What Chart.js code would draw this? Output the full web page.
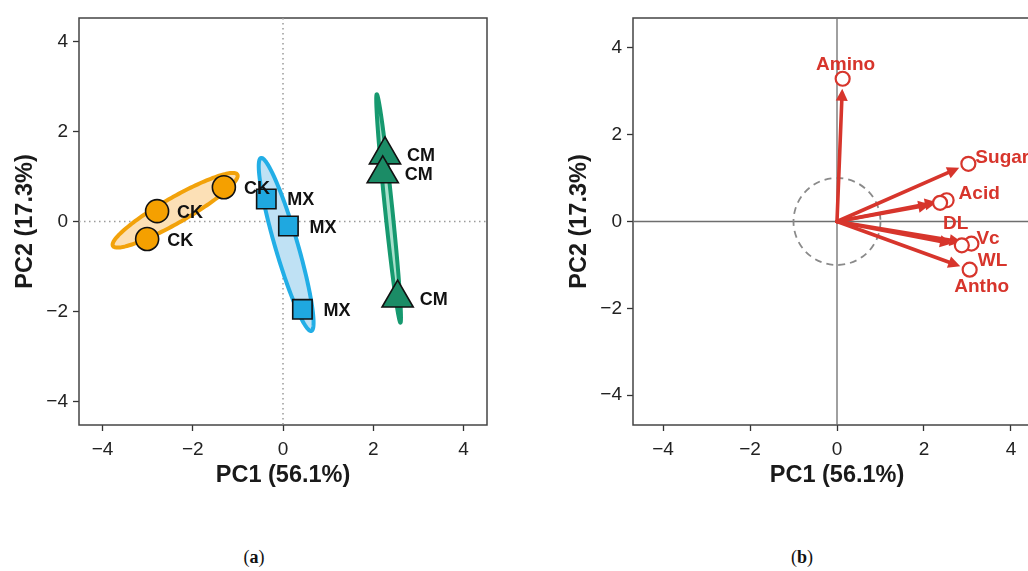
<!DOCTYPE html>
<html><head><meta charset="utf-8">
<script src="https://cdn.jsdelivr.net/npm/chart.js@4"></script>
<style>
html,body{margin:0;padding:0;background:#fff;width:1028px;height:571px;overflow:hidden;position:relative}
#wa{position:absolute;left:0;top:0;width:500px;height:500px}
#wb{position:absolute;left:554px;top:0;width:500px;height:500px}
.cap{position:absolute;top:547px;font-family:"Liberation Serif","Times New Roman",serif;font-size:18px;color:#111;transform:translateX(-50%)}
</style></head><body>
<div id="wa"><canvas id="ca" width="500" height="500"></canvas></div>
<div id="wb"><canvas id="cb" width="500" height="500"></canvas></div>
<div class="cap" style="left:254px">(<b>a</b>)</div>
<div class="cap" style="left:802px">(<b>b</b>)</div>
<script>
// ---------- data ----------
const tickValues = [-4, -2, 0, 2, 4];
const groupNames = ['CK', 'MX', 'CM'];
const ckPC1 = [-1.31, -2.79, -3.01];
const ckPC2 = [0.76, 0.23, -0.39];
const mxPC1 = [-0.37, 0.12, 0.43];
const mxPC2 = [0.50, -0.10, -1.95];
const cmPC1 = [2.26, 2.21, 2.54];
const cmPC2 = [1.48, 1.06, -1.70];
// confidence ellipses (data units)
const ellCenterPC1 = [-2.39, 0.07, 2.34];
const ellCenterPC2 = [0.25, -0.51, 0.29];
const ellSemiMajor = [1.59, 2.00, 2.55];
const ellSemiMinor = [0.28, 0.25, 0.08];
const ellAngleDeg = [29.9, -73.8, -84.1];
// variable loadings
const varNames = ['Amino', 'Sugar', 'Acid', 'DL', 'Vc', 'WL', 'Antho'];
const loadPC1 = [0.13, 3.02, 2.52, 2.37, 3.09, 2.87, 3.05];
const loadPC2 = [3.29, 1.33, 0.49, 0.43, -0.51, -0.55, -1.11];
const unitCircleRadius = [1];

// ---------- styles ----------
const FONT = '"Liberation Sans", Arial, Helvetica, sans-serif';
const groupStyle = [
  {shape: 'circle', r: 11.5, fill: '#F5A000', ellStroke: '#F2A20A', ellFill: '#FCE0B6', gap: 20},
  {shape: 'rect', r: 13.7, fill: '#1FA8E0', ellStroke: '#22AEE6', ellFill: '#BFE1F4', gap: 21},
  {shape: 'triangle', r: 18, fill: '#1B8C66', ellStroke: '#16996F', ellFill: '#A8E0CC', gap: 22}
];
const RED = '#D7352C';
const varLabelDx = [3, 7, 12, 3, 5, 16, 12];
const varLabelDy = [-16, -8, -8, 19, -6, 14, 16];
const varLabelAlign = ['center', 'left', 'left', 'left', 'left', 'left', 'center'];

function fmt(v) { return v < 0 ? '\u2212' + Math.abs(v) : String(v); }

function axis(isX, title, min, max) {
  return {
    type: 'linear', min: min, max: max, position: isX ? 'bottom' : 'left',
    afterBuildTicks: s => { s.ticks = tickValues.map(v => ({value: v})); },
    afterFit: s => { if (isX) s.height = 75; else s.width = 79; },
    grid: {display: true, drawOnChartArea: false, drawTicks: true, tickLength: 6, tickWidth: 1.3, tickColor: '#333', color: '#333'},
    border: {display: false},
    ticks: {color: '#222', font: {family: FONT, size: 19}, padding: isX ? 7 : 5, maxRotation: 0, autoSkip: false,
      callback: v => fmt(v)},
    title: {display: true, text: title, color: '#1a1a1a', font: {family: FONT, size: 23.5, weight: 'bold'},
      padding: isX ? {top: 0, bottom: 10} : {top: 11, bottom: 0}}
  };
}

function commonOptions(lim) {
  return {
    responsive: false, animation: false, events: [], clip: false,
    layout: {autoPadding: false, padding: {top: 18, right: 13, left: 0, bottom: 0}},
    plugins: {legend: {display: false}, tooltip: {enabled: false}},
    scales: {x: axis(true, 'PC1 (56.1%)', -lim, lim), y: axis(false, 'PC2 (17.3%)', -lim, lim)}
  };
}

function frame(ctx, a) {
  ctx.save();
  ctx.strokeStyle = '#444'; ctx.lineWidth = 1.5; ctx.setLineDash([]);
  ctx.strokeRect(a.left, a.top, a.right - a.left, a.bottom - a.top);
  ctx.restore();
}

function zeroLines(chart, dashed, color, width) {
  const ctx = chart.ctx, a = chart.chartArea, xs = chart.scales.x, ys = chart.scales.y;
  const x0 = xs.getPixelForValue(0), y0 = ys.getPixelForValue(0);
  ctx.save();
  ctx.strokeStyle = color; ctx.lineWidth = width;
  ctx.setLineDash(dashed ? [1.5, 3.5] : []);
  ctx.beginPath();
  ctx.moveTo(x0, a.top); ctx.lineTo(x0, a.bottom);
  ctx.moveTo(a.left, y0); ctx.lineTo(a.right, y0);
  ctx.stroke();
  ctx.restore();
}

function ellipsePath(ctx, xs, ys, cx, cy, a, b, deg) {
  const th = deg * Math.PI / 180, n = 160;
  ctx.beginPath();
  for (let k = 0; k <= n; k++) {
    const t = 2 * Math.PI * k / n;
    const dx = a * Math.cos(t), dy = b * Math.sin(t);
    const X = xs.getPixelForValue(cx + dx * Math.cos(th) - dy * Math.sin(th));
    const Y = ys.getPixelForValue(cy + dx * Math.sin(th) + dy * Math.cos(th));
    if (k) ctx.lineTo(X, Y); else ctx.moveTo(X, Y);
  }
  ctx.closePath();
}

// ---------- panel (a) ----------
const groupPC1 = [ckPC1, mxPC1, cmPC1];
const groupPC2 = [ckPC2, mxPC2, cmPC2];

const plotA = {
  id: 'plotA',
  beforeDatasetsDraw(chart) {
    const ctx = chart.ctx, xs = chart.scales.x, ys = chart.scales.y;
    frame(ctx, chart.chartArea);
    zeroLines(chart, true, '#9a9a9a', 1.5);
    for (let i = 0; i < groupNames.length; i++) {
      ctx.save();
      ellipsePath(ctx, xs, ys, ellCenterPC1[i], ellCenterPC2[i], ellSemiMajor[i], ellSemiMinor[i], ellAngleDeg[i]);
      ctx.fillStyle = groupStyle[i].ellFill; ctx.fill();
      ctx.strokeStyle = groupStyle[i].ellStroke; ctx.lineWidth = 4; ctx.lineJoin = 'round'; ctx.stroke();
      ctx.restore();
    }
  },
  afterDatasetDraw(chart, args) {
    const ctx = chart.ctx, i = args.index;
    const meta = chart.getDatasetMeta(i);
    ctx.save();
    ctx.font = 'bold 18px ' + FONT; ctx.fillStyle = '#111';
    ctx.textAlign = 'left'; ctx.textBaseline = 'alphabetic';
    meta.data.forEach(pt => { ctx.fillText(groupNames[i], pt.x + groupStyle[i].gap, pt.y + 6.5); });
    ctx.restore();
  }
};

new Chart(document.getElementById('ca'), {
  type: 'scatter',
  data: {
    datasets: groupNames.map((g, i) => ({
      label: g,
      data: groupPC1[i].map((x, j) => ({x: x, y: groupPC2[i][j]})),
      pointStyle: groupStyle[i].shape, pointRadius: groupStyle[i].r, pointHoverRadius: groupStyle[i].r,
      backgroundColor: groupStyle[i].fill, borderColor: '#111', borderWidth: 1.6
    }))
  },
  options: commonOptions(4.52),
  plugins: [plotA]
});

// ---------- panel (b) ----------
const plotB = {
  id: 'plotB',
  beforeDatasetsDraw(chart) {
    const ctx = chart.ctx, xs = chart.scales.x, ys = chart.scales.y;
    frame(ctx, chart.chartArea);
    zeroLines(chart, false, '#6e6e6e', 1.3);
    const ox = xs.getPixelForValue(0), oy = ys.getPixelForValue(0);
    // dashed unit circle
    ctx.save();
    const rad = xs.getPixelForValue(unitCircleRadius[0]) - ox;
    ctx.strokeStyle = '#8a8a8a'; ctx.lineWidth = 1.8; ctx.setLineDash([7, 5]);
    ctx.beginPath(); ctx.arc(ox, oy, rad, 0, 2 * Math.PI); ctx.stroke();
    ctx.restore();
    // arrows
    ctx.save();
    ctx.strokeStyle = RED; ctx.fillStyle = RED; ctx.lineWidth = 3.6; ctx.lineCap = 'round';
    for (let i = 0; i < varNames.length; i++) {
      const px = xs.getPixelForValue(loadPC1[i]), py = ys.getPixelForValue(loadPC2[i]);
      const ang = Math.atan2(py - oy, px - ox);
      const L = Math.hypot(px - ox, py - oy) - 10;
      const tx = ox + L * Math.cos(ang), ty = oy + L * Math.sin(ang);
      ctx.beginPath(); ctx.moveTo(ox, oy);
      ctx.lineTo(tx - 6 * Math.cos(ang), ty - 6 * Math.sin(ang)); ctx.stroke();
      const hl = 12, hw = 6;
      const bx = tx - hl * Math.cos(ang), by = ty - hl * Math.sin(ang);
      ctx.beginPath();
      ctx.moveTo(tx, ty);
      ctx.lineTo(bx + hw * Math.sin(ang), by - hw * Math.cos(ang));
      ctx.lineTo(bx - hw * Math.sin(ang), by + hw * Math.cos(ang));
      ctx.closePath(); ctx.fill();
    }
    ctx.restore();
  },
  afterDatasetsDraw(chart) {
    const ctx = chart.ctx, meta = chart.getDatasetMeta(0);
    ctx.save();
    ctx.font = 'bold 19px ' + FONT; ctx.fillStyle = RED; ctx.textBaseline = 'alphabetic';
    meta.data.forEach((pt, i) => {
      ctx.textAlign = varLabelAlign[i];
      ctx.fillText(varNames[i], pt.x + varLabelDx[i], pt.y + varLabelDy[i] + 6.8);
    });
    ctx.restore();
  }
};

new Chart(document.getElementById('cb'), {
  type: 'scatter',
  data: {
    datasets: [{
      label: 'loadings',
      data: loadPC1.map((x, j) => ({x: x, y: loadPC2[j]})),
      pointStyle: 'circle', pointRadius: 7, pointHoverRadius: 7,
      backgroundColor: '#ffffff', borderColor: RED, borderWidth: 2.2
    }]
  },
  options: commonOptions(4.69),
  plugins: [plotB]
});
</script>
</body></html>
